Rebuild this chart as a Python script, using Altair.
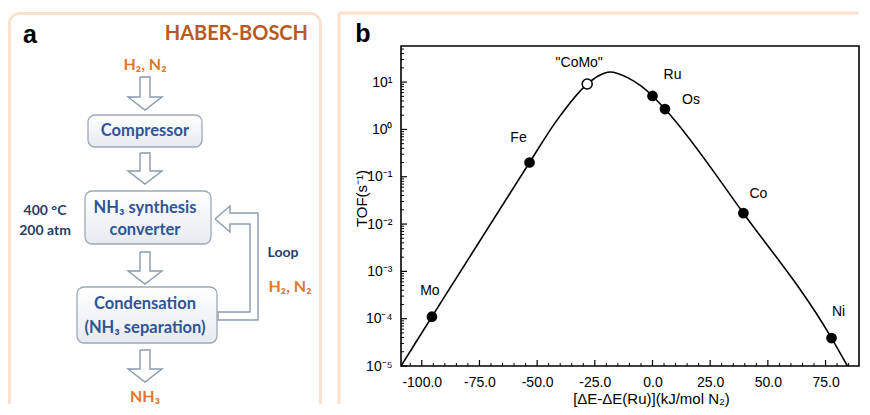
import math
import altair as alt
import pandas as pd

# ---------------- panel b: volcano plot data ----------------
metals = ["Mo", "Fe", "\"CoMo\"", "Ru", "Os", "Co", "Ni"]
delta_e = [-95.6, -53.3, -28.3, 0.0, 5.4, 39.4, 77.6]
tof = [1.1e-4, 0.2, 9.1, 5.1, 2.7, 0.017, 3.9e-5]
is_open = [False, False, True, False, False, False, False]

curve_de = [-109.0, -95.6, -53.3, -41.7, -28.3, -23.5, -18.4, -10.6, -5.0, 0.0, 5.4, 39.4, 77.6, 84.5]
curve_tof = [1e-5, 1.1e-4, 0.2, 1.5, 9.1, 13.5, 16.4, 12.3, 8.3, 5.1, 2.7, 0.017, 3.9e-5, 1e-5]

x_ticks = [-100, -75, -50, -25, 0, 25, 50, 75]
x_tick_labels = ["-100.0", "-75.0", "-50.0", "-25.0", "0.0", "25.0", "50.0", "75.0"]
x_minor = [v for v in range(-105, 90, 5) if v % 25 != 0]
y_ticks = [1e-5, 1e-4, 1e-3, 1e-2, 1e-1, 1.0, 10.0]
y_tick_labels = ["10⁻⁵", "10⁻⁴", "10⁻³", "10⁻²", "10⁻¹", "10⁰", "10¹"]
y_minor = [m * d for d in y_ticks for m in range(2, 10) if m * d <= 58]

x_title = "[ΔE-ΔE(Ru)](kJ/mol N₂)"
y_title = "TOF(s⁻¹)"

# ---------------- panel a: flow chart content ----------------
title_a = "HABER-BOSCH"
feed_label = "H₂, N₂"
product_label = "NH₃"
box_lines = ["Compressor", "NH₃ synthesis", "converter", "Condensation", "(NH₃ separation)"]
condition_lines = ["400 °C", "200 atm"]
loop_label = "Loop"
recycle_label = "H₂, N₂"

# ---------------- styles / layout ----------------
PEACH = "#fbe1cf"
ORANGE = "#e2772c"
BROWN = "#b85a20"
NAVY = "#2f5597"
DARKNAVY = "#24406a"
ARROW = "#8a9ab0"
FLOW_FONT = "Lato"
PLOT_FONT = "Liberation Sans"

W, H = 458, 320            # right plot area
LW = 314                   # left panel width
TOPSHIFT = 34              # left local units above the shared view top
LH = 361                   # left view height (aligned with right plot top)

lx = alt.Scale(domain=[0, LW], nice=False, zero=False)
ly = alt.Scale(domain=[TOPSHIFT, TOPSHIFT + LH], nice=False, zero=False, reverse=True)


def XL(f="x"):
    return alt.X(f"{f}:Q", scale=lx, axis=None)


def YL(f="y"):
    return alt.Y(f"{f}:Q", scale=ly, axis=None)


# frame of panel a (open at the bottom, rounded top corners)
r = 10
x0, x1, y0, yb = 1.5, LW - 1.5, 1.5, TOPSHIFT + LH - 3
fpts = [(x0, yb)]
for a in range(180, 271, 15):
    fpts.append((x0 + r + r * math.cos(math.radians(a)), y0 + r + r * math.sin(math.radians(a))))
for a in range(270, 361, 15):
    fpts.append((x1 - r + r * math.cos(math.radians(a)), y0 + r + r * math.sin(math.radians(a))))
fpts.append((x1, yb))
frame_a = alt.Chart(pd.DataFrame({"k": range(len(fpts)), "x": [p[0] for p in fpts], "y": [p[1] for p in fpts]})).mark_line(
    color=PEACH, strokeWidth=3, strokeJoin="round"
).encode(x=XL(), y=YL(), order="k:Q")

# boxes
box_df = pd.DataFrame({"x": [80, 77, 69], "x2": [194, 203, 209], "y": [103, 179, 275], "y2": [135, 232, 331]})
grad = alt.LinearGradient(
    gradient="linear",
    stops=[alt.GradientStop(color="#ffffff", offset=0), alt.GradientStop(color="#e6eaf0", offset=1)],
    x1=0, x2=0, y1=0, y2=1,
)
boxes = alt.Chart(box_df).mark_rect(fill=grad, stroke="#9ea8b5", strokeWidth=1.3, cornerRadius=7).encode(
    x=XL(), x2="x2:Q", y=YL(), y2="y2:Q"
)

# down arrows (hollow block arrows) and loop arrow
arrow_cx = 137
arrow_tops = [65, 141, 240, 338]
arrow_bottoms = [98, 172, 272, 370]
rows = []
for i, (t, b) in enumerate(zip(arrow_tops, arrow_bottoms)):
    pts = [(arrow_cx - 5, t), (arrow_cx + 5, t), (arrow_cx + 5, b - 13), (arrow_cx + 17, b - 13),
           (arrow_cx, b), (arrow_cx - 17, b - 13), (arrow_cx - 5, b - 13), (arrow_cx - 5, t)]
    for k, (px, py) in enumerate(pts):
        rows.append({"id": f"a{i}", "k": k, "x": px, "y": py})
loop_pts = [(207, 207), (222, 194), (222, 201), (250, 201), (250, 308), (210, 308), (210, 300),
            (242, 300), (242, 212), (222, 212), (222, 220), (207, 207)]
for k, (px, py) in enumerate(loop_pts):
    rows.append({"id": "loop", "k": k, "x": px, "y": py})
arrows = alt.Chart(pd.DataFrame(rows)).mark_line(color=ARROW, strokeWidth=1.4, strokeJoin="miter").encode(
    x=XL(), y=YL(), detail="id:N", order="k:Q"
)


def text_layer(texts, xs, ys, color, size, align="center", font=FLOW_FONT, weight="bold"):
    df = pd.DataFrame({"x": xs, "y": ys, "t": texts})
    return alt.Chart(df).mark_text(color=color, fontSize=size, font=font, fontWeight=weight,
                                   align=align, baseline="middle").encode(x=XL(), y=YL(), text="t:N")


t_box = text_layer(box_lines, [137] * 5, [119, 196, 218, 292, 316], NAVY, 16.5)
t_cond = text_layer(condition_lines, [37, 37], [199, 219], DARKNAVY, 14)
t_loop = text_layer([loop_label], [275], [241], DARKNAVY, 14)
t_orange = text_layer([feed_label, product_label, recycle_label], [137, 137, 282], [53, 385, 275], ORANGE, 16)
t_title = text_layer([title_a], [300], [22], BROWN, 20, align="right")
t_a = text_layer(["a"], [22], [23], "black", 25, font=PLOT_FONT)

left = alt.layer(frame_a, arrows, boxes, t_box, t_cond, t_loop, t_orange, t_title, t_a).properties(
    width=LW, height=LH
)

# ---------------- right panel ----------------
xs = alt.Scale(domain=[-109, 89.5], nice=False, zero=False)
ys = alt.Scale(type="log", domain=[1e-5, 58], nice=False)


def label_expr(vals, labs, factor=None):
    expr = f"'{labs[-1]}'"
    for v, l in reversed(list(zip(vals[:-1], labs[:-1]))):
        thr = v * factor if factor else v + 1
        expr = f"datum.value < {thr} ? '{l}' : ({expr})"
    return expr


x_axis = alt.Axis(
    values=x_ticks, labelExpr=label_expr(x_ticks, x_tick_labels), ticks=False, domain=False, grid=False,
    labelFont=PLOT_FONT, labelFontSize=14, labelColor="black", labelPadding=9, labelFlush=False,
    title=x_title, titleFont=PLOT_FONT, titleFontSize=15, titleFontWeight="normal", titleColor="black",
    titleX=250, titleY=25, titleAlign="center", titleBaseline="top",
)
y_axis = alt.Axis(
    values=y_ticks, labelExpr=label_expr(y_ticks, y_tick_labels, 3), ticks=False, domain=False, grid=False,
    labelFont=PLOT_FONT, labelFontSize=14, labelColor="black", labelPadding=9, labelFlush=False,
    labelOverlap=False,
    title=y_title, titleFont=PLOT_FONT, titleFontSize=15, titleFontWeight="normal", titleColor="black",
    titleAngle=270, titleX=-40, titleY=152, titleAlign="center", titleBaseline="middle",
)


def XR():
    return alt.X("x:Q", scale=xs, axis=x_axis)


def YR():
    return alt.Y("tof:Q", scale=ys, axis=y_axis)


one = pd.DataFrame({"v": [0]})
peach_left = alt.Chart(one).mark_rule(color=PEACH, strokeWidth=3).encode(
    x=alt.value(-62), y=alt.value(-33), y2=alt.value(H + 38)
)
peach_top = alt.Chart(one).mark_rule(color=PEACH, strokeWidth=3).encode(
    x=alt.value(-62), x2=alt.value(W), y=alt.value(-33)
)
frame_b = alt.Chart(one).mark_rect(fillOpacity=0, stroke="black", strokeWidth=1.6).encode(
    x=alt.value(0), x2=alt.value(W), y=alt.value(0), y2=alt.value(H)
)

xt_major = alt.Chart(pd.DataFrame({"x": x_ticks})).mark_rule(color="black", strokeWidth=1.2).encode(
    x=XR(), y=alt.value(H), y2=alt.value(H - 6)
)
xt_minor = alt.Chart(pd.DataFrame({"x": x_minor})).mark_rule(color="black", strokeWidth=1).encode(
    x=XR(), y=alt.value(H), y2=alt.value(H - 3)
)
yt_major = alt.Chart(pd.DataFrame({"tof": y_ticks})).mark_rule(color="black", strokeWidth=1.2).encode(
    y=YR(), x=alt.value(0), x2=alt.value(6)
)
yt_minor = alt.Chart(pd.DataFrame({"tof": y_minor})).mark_rule(color="black", strokeWidth=1).encode(
    y=YR(), x=alt.value(0), x2=alt.value(3)
)

curve = alt.Chart(pd.DataFrame({"x": curve_de, "tof": curve_tof})).mark_line(
    color="black", strokeWidth=1.6, interpolate="monotone", clip=True
).encode(x=XR(), y=YR())

pts_df = pd.DataFrame({"x": delta_e, "tof": tof, "m": metals, "open": is_open})
pts_filled = alt.Chart(pts_df[~pts_df["open"]]).mark_circle(color="black", size=115, opacity=1).encode(
    x=XR(), y=YR()
)
pts_open = alt.Chart(pts_df[pts_df["open"]]).mark_circle(
    fill="white", stroke="black", strokeWidth=1.5, size=100, opacity=1
).encode(x=XR(), y=YR())

label_offsets = [(-2, -26), (-11, -25), (-8, -21), (20, -21), (26, -9), (15, -19), (7, -26)]
label_layers = []
for i, (dx, dy) in enumerate(label_offsets):
    label_layers.append(
        alt.Chart(pts_df.iloc[[i]]).mark_text(
            font=PLOT_FONT, fontSize=14, color="black", dx=dx, dy=dy, align="center", baseline="middle"
        ).encode(x=XR(), y=YR(), text="m:N")
    )

t_b = alt.Chart(one).mark_text(font=PLOT_FONT, fontSize=25, fontWeight="bold", color="black",
                               align="center", baseline="middle").encode(
    x=alt.value(-38), y=alt.value(-12), text=alt.value("b")
)

right = alt.layer(peach_left, peach_top, frame_b, xt_major, xt_minor, yt_major, yt_minor,
                  curve, pts_filled, pts_open, *label_layers, t_b).properties(width=W, height=H)

chart = alt.hconcat(left, right, spacing=15).properties(
    padding={"left": 0, "top": 3, "right": 0, "bottom": 0}
).configure_view(stroke=None)

chart.save("out.html", embed_options={"renderer": "svg", "actions": False})
